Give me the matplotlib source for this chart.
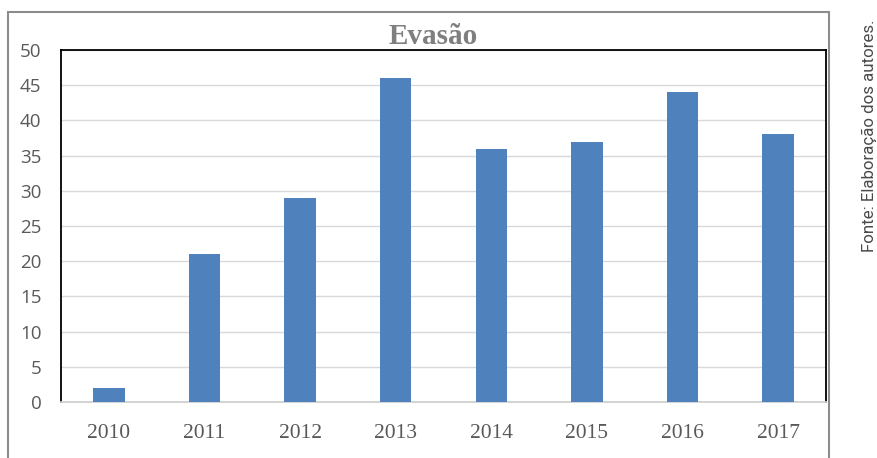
import matplotlib.pyplot as plt
import numpy as np
from matplotlib.patches import Rectangle

# dados do gráfico
anos = ['2010', '2011', '2012', '2013', '2014', '2015', '2016', '2017']
evasao = [2, 21, 29, 46, 36, 37, 44, 38]
y_ticks = [0, 5, 10, 15, 20, 25, 30, 35, 40, 45, 50]

fig = plt.figure(figsize=(8.78, 4.58), dpi=100)
ax = fig.add_axes([0.0695, 0.1223, 0.8713, 0.7685])

index = np.arange(len(anos))
ax.bar(index, evasao, 0.33, color='#4F81BD', zorder=3)

ax.set_xlim(-0.5, len(anos) - 0.5)
ax.set_ylim(0, 50)
ax.set_yticks(y_ticks)
ax.set_yticklabels([str(v) for v in y_ticks], fontfamily='Open Sans', fontsize=13.5, color='#595959')
ax.set_xticks(index)
ax.set_xticklabels(anos, fontfamily='Liberation Serif', fontsize=15.5, color='#595959')
ax.tick_params(axis='both', length=0)
ax.tick_params(axis='x', pad=16)
ax.tick_params(axis='y', pad=14)
ax.yaxis.grid(True, color='#d9d9d9', lw=1, zorder=0)

for s in ['left', 'top', 'right']:
    ax.spines[s].set_color('black')
    ax.spines[s].set_linewidth(1.3)
ax.spines['bottom'].set_color('#d0d0d0')
ax.spines['bottom'].set_linewidth(1.3)

fig.text(0.493, 1 - 37 / 458, 'Evasão', fontfamily='Liberation Serif', fontweight='bold',
         fontsize=21, color='#7f7f7f', ha='center', va='center')

# moldura externa
fig.patches.append(Rectangle((8 / 878, -0.02), (829 - 8) / 878, 1 - 12 / 458 + 0.02,
                             transform=fig.transFigure, fill=False, edgecolor='#8c8c8c', lw=1.5))

fig.text(869 / 878, 1 - 19 / 458, 'Fonte: Elaboração dos autores.', rotation=90,
         fontfamily='Roboto', fontsize=12.2, color='#4a4a4a', ha='center', va='top')

plt.savefig('out.png', dpi=100)
